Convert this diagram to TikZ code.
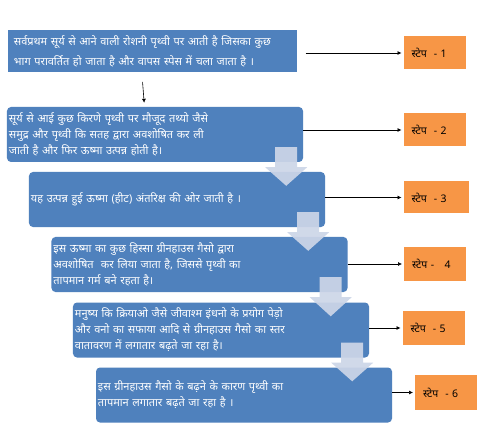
\documentclass[tikz,border=0pt]{standalone}
\usepackage{fontspec}
\newfontfamily\hindi[Script=Devanagari, WordSpace=1.9]{Noto Sans}
\usetikzlibrary{arrows.meta,calc,backgrounds}
\definecolor{boxblue}{RGB}{79,129,189}
\definecolor{steporange}{RGB}{247,150,70}
\definecolor{arrowfill}{RGB}{205,214,232}
\definecolor{stepshadow}{RGB}{210,180,150}
\definecolor{framegray}{RGB}{215,215,215}
\newcommand\bkarrow[2]{%
  \coordinate (#1c) at ($(#1.south east)+(-17,0)$);
  \coordinate (#1t) at (#1c |- #2.north);
  \fill[arrowfill, opacity=0.92] ($(#1c)+(-11,-15)$) -- ($(#1c)+(11,-15)$) -- ($(#1c)+(11,5)$) -- ($(#1c)+(21,5)$) -- ($(#1t)+(0,14)$) -- ($(#1c)+(-21,5)$) -- ($(#1c)+(-11,5)$) -- cycle;
}
\begin{document}
\begin{tikzpicture}[x=1bp,y=-1bp,
  proc/.style={fill=boxblue, rounded corners=4bp, minimum height=55bp, text width=292bp,
    inner xsep=2bp, inner ysep=0pt, align=left, text=white,
    font=\hindi\fontsize{11}{16}\selectfont},
  stepbox/.style={fill=steporange, draw=white, line width=2bp, text width=46bp, inner xsep=9bp,
    inner ysep=0pt, align=left, text=black, font=\hindi\fontsize{10.5}{11}\selectfont},
  conn/.style={-{Latex[length=4bp,width=4bp]}, line width=0.6bp}
]
\useasboundingbox (0,0) rectangle (500,446);
\fill[white] (0,0) rectangle (500,446);

% box 1
\node[fill=boxblue, draw=white, line width=3bp, minimum height=45bp, text width=277bp,
  inner xsep=7bp, inner ysep=0pt, align=left, text=white,
  font=\hindi\fontsize{11}{20}\selectfont] (b1) at (152.5,51)
  {सर्वप्रथम सूर्य से आने वाली रोशनी पृथ्वी पर आती है जिसका कुछ\\भाग परावर्तित हो जाता है और वापस स्पेस में चला जाता है ।};

\node[proc] (b2) at (155,134.5) {सूर्य से आई कुछ किरणे पृथ्वी पर मौजूद तथ्यो जैसे\\समुद्र और पृथ्वी कि सतह द्वारा अवशोषित कर ली\\जाती है और फिर ऊष्मा उत्पन्न होती है।};
\node[proc] (b3) at (177,199.5) {यह उत्पन्न हुई ऊष्मा (हीट) अंतरिक्ष की ओर जाती है ।};
\node[proc] (b4) at (199.5,264.5) {इस ऊष्मा का कुछ हिस्सा ग्रीनहाउस गैसो द्वारा\\अवशोषित\ \ कर लिया जाता है, जिससे पृथ्वी का\\तापमान गर्म बने रहता है।};
\node[proc] (b5) at (221,330) {मनुष्य कि क्रियाओ जैसे जीवाश्म इंधनो के प्रयोग पेड़ो\\और वनो का सफाया आदि से ग्रीनहाउस गैसो का स्तर\\वातावरण में लगातार बढ़ते जा रहा है।};
\node[proc] (b6) at (244,395) {इस ग्रीनहाउस गैसो के बढ़ने के कारण पृथ्वी का\\तापमान लगातार बढ़ते जा रहा है ।};

\begin{scope}[on background layer]
  \fill[framegray] ($(b1.north west)+(-1.5,-1.5)$) rectangle ($(b1.south east)+(1.5,1.5)$);
  \fill[gray!70] ($(b1.south west)+(-1.5,1.5)$) rectangle ($(b1.south east)+(1.5,3)$);
\end{scope}

\bkarrow{b2}{b3}
\bkarrow{b3}{b4}
\bkarrow{b4}{b5}
\bkarrow{b5}{b6}

\draw[conn, shorten <=7bp, shorten >=4bp] ([xshift=-10.5bp]b1.south) -- ([xshift=-10.5bp]b2.north);

% step boxes
\node[stepbox, minimum height=35bp] (s1) at (434.5,53) {स्टेप\ \ - 1};
\node[stepbox, minimum height=35bp] (s2) at (434.5,130) {स्टेप\ \ - 2};
\node[stepbox, minimum height=34bp, text width=49bp] (s3) at (436,197.5) {स्टेप\ \ - 3};
\node[stepbox, minimum height=36bp] (s4) at (435,264) {स्टेप -\ \ \ 4};
\node[stepbox, minimum height=36bp] (s5) at (433.5,328) {स्टेप\ \ - 5};
\node[stepbox, minimum height=37bp] (s6) at (446,392.5) {स्टेप\ \ - 6};
\begin{scope}[on background layer]
  \foreach \s in {s1,s2,s3,s4,s5,s6}{
    \fill[stepshadow] ($(\s.north west)+(2,2)$) rectangle ($(\s.south east)+(2,2.5)$);
    \fill[framegray] ($(\s.north west)+(-1.5,-1.5)$) rectangle ($(\s.south east)+(1.5,1.5)$);
  }
\end{scope}

\draw[conn] ([xshift=6bp]b1.east |- s1.west) -- (s1.west);
\draw[conn] (b2.east |- s2.west) -- (s2.west);
\draw[conn] (b3.east |- s3.west) -- (s3.west);
\draw[conn] (b4.east |- s4.west) -- (s4.west);
\draw[conn] (b5.east |- s5.west) -- (s5.west);
\draw[conn] (b6.east |- s6.west) -- (s6.west);
\end{tikzpicture}
\end{document}
